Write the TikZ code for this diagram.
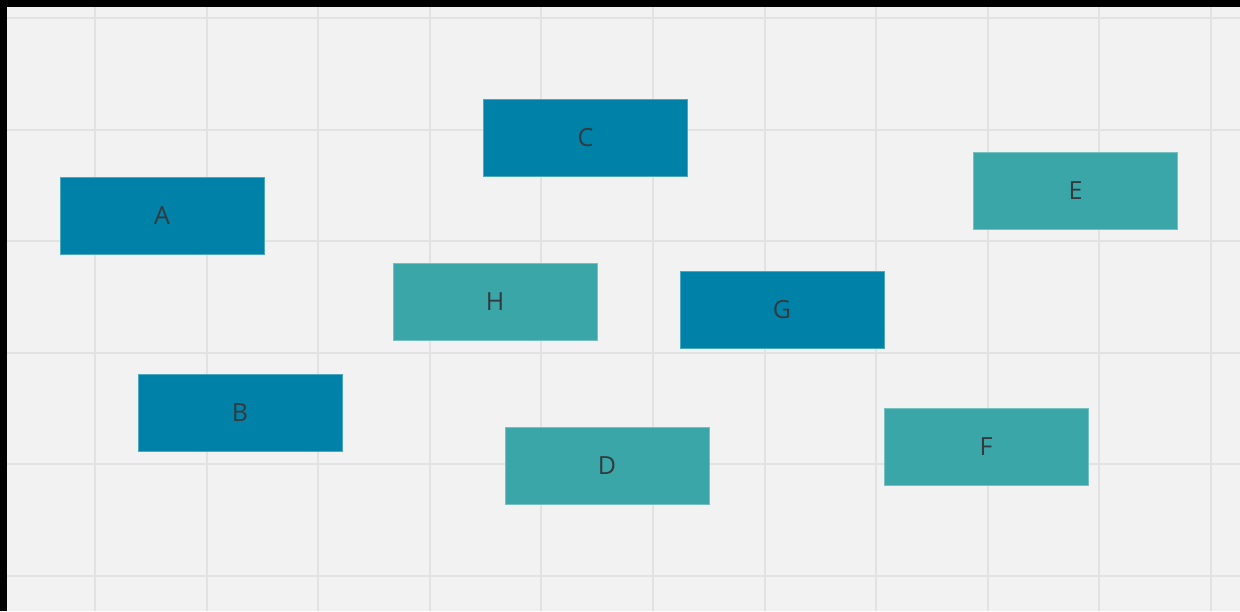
\documentclass[tikz,border=0pt]{standalone}
\usepackage{fontspec}
\setmainfont{Open Sans}
\usepackage{xcolor}
\usepackage{tikz}
\definecolor{boxblue}{HTML}{0081A7}
\definecolor{boxteal}{HTML}{3AA6A8}
\definecolor{canvas}{HTML}{F2F2F2}
\definecolor{gridline}{HTML}{E2E2E2}
\definecolor{labeltext}{HTML}{333A3F}
\tikzset{
  card/.style={
    rectangle, fill=#1, draw=#1!70!white, line width=0.8pt,
    minimum width=204pt, minimum height=77pt,
    inner sep=0pt, text=labeltext,
    font=\fontsize{25}{28}\selectfont},
  card/.default=boxblue,
  gridrule/.style={draw=gridline, line width=2pt},
}
\begin{document}
\begin{tikzpicture}[x=1pt, y=-1pt]
  % frame and canvas
  \fill[black] (0,0) rectangle (1240,611);
  \fill[canvas] (7,7) rectangle (1240,611);
  \useasboundingbox (0,0) rectangle (1240,611);
  % grid
  \foreach \i in {0,...,10}
    \draw[gridrule] (95+111.6*\i,7) -- (95+111.6*\i,611);
  \foreach \j in {0,...,5}
    \draw[gridrule] (7,18+111.6*\j) -- (1240,18+111.6*\j);
  % cards
  \node[card=boxblue] (a) at (162,215.5) {A};
  \node[card=boxblue] (b) at (240,412.5) {B};
  \node[card=boxblue] (c) at (585.5,137.5) {C};
  \node[card=boxteal] (d) at (607,465.5) {D};
  \node[card=boxteal] (e) at (1075.5,190.5) {E};
  \node[card=boxteal] (f) at (986,446.5) {F};
  \node[card=boxblue] (g) at (782,309.5) {G};
  \node[card=boxteal] (h) at (495,301.5) {H};
\end{tikzpicture}
\end{document}
